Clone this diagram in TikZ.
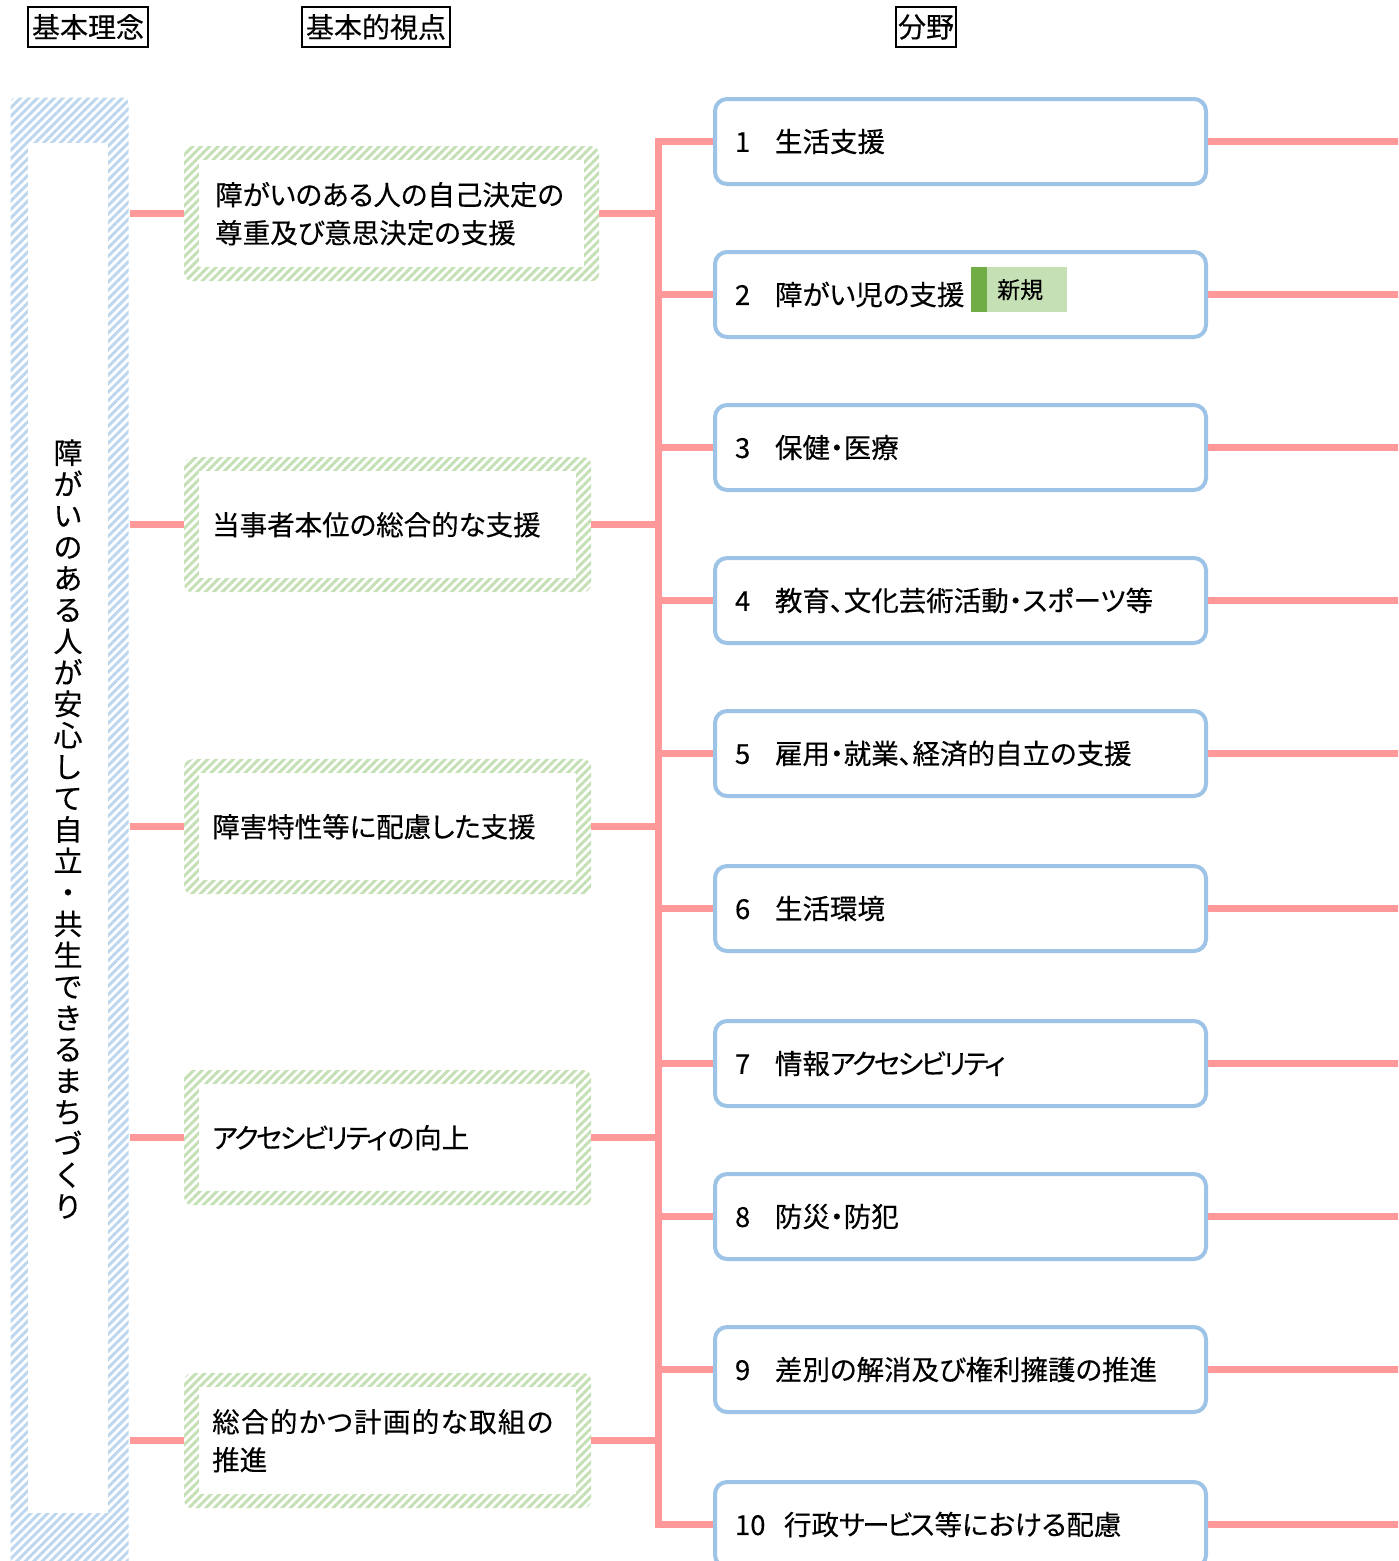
\documentclass[tikz,border=0pt]{standalone}
\usepackage{fontspec}
\setmainfont{Noto Sans CJK JP}[RawFeature=+palt, FakeBold=0.3]
\newfontfamily\vfont{Noto Sans CJK JP}[FakeBold=0.3]
\usetikzlibrary{patterns.meta}
\definecolor{pinkc}{RGB}{255,153,153}
\definecolor{bluec}{RGB}{157,195,230}
\definecolor{bluehatch}{RGB}{189,215,238}
\definecolor{greenhatch}{RGB}{197,224,180}
\definecolor{tagdark}{RGB}{112,173,71}
\definecolor{taglight}{RGB}{197,224,180}
\newcommand\fs{\fontsize{27.5}{38}\selectfont}
\newcommand\kata[1]{{\addfontfeature{LetterSpace=-9}#1}}
\tikzset{
  link/.style={draw=pinkc, line width=7pt},
  hbox/.style={draw=black, line width=1.5pt, inner sep=0pt, minimum height=40pt, font=\fontsize{28}{30}\selectfont},
  fbox/.style={draw=bluec, line width=4pt, rounded corners=12pt, fill=white, minimum height=85pt,
               text width=451pt, inner xsep=20pt, align=left, font=\fs, anchor=north west},
  vbox/.style={rounded corners=8pt, pattern={Lines[angle=45,distance=6pt,line width=3pt]},
               pattern color=greenhatch, minimum width=407pt, minimum height=135pt, anchor=north west, inner sep=0pt},
  vtext/.style={anchor=west, align=left, font=\fs, inner sep=0pt},
  lbox/.style={rounded corners=5pt, pattern={Lines[angle=45,distance=6pt,line width=3pt]},
               pattern color=bluehatch, anchor=north west, inner sep=0pt},
}
\begin{document}
\begin{tikzpicture}[x=1pt,y=-1pt]
\useasboundingbox (0,0) rectangle (1398,1561);
\clip (0,0) rectangle (1398,1561);

% headers
\node[hbox, minimum width=120pt] (h1) at (88,27) {基本理念};
\node[hbox, minimum width=148pt] (h2) at (376,27) {基本的視点};
\node[hbox, minimum width=60pt]  (h3) at (926,27) {分野};

% left concept box
\node[lbox, minimum width=118pt, minimum height=1490pt] (L) at (9,96) {};
\node[fill=white, inner sep=0pt, minimum width=80pt, minimum height=1370pt, anchor=north west] (Lin) at (28,143) {};
\node[align=center, inner sep=0pt, font=\vfont\fontsize{29}{31.4}\selectfont] (Ltext) at (68,829)
  {障\\が\\い\\の\\あ\\る\\人\\が\\安\\心\\し\\て\\自\\立\\・\\共\\生\\で\\き\\る\\ま\\ち\\づ\\く\\り};

% viewpoint boxes
\node[vbox, minimum width=415pt] (v1) at (184,146) {};
\node[vbox] (v2) at (184,457) {};
\node[vbox] (v3) at (184,759) {};
\node[vbox] (v4) at (184,1070) {};
\node[vbox] (v5) at (184,1373) {};
\foreach \n in {v1,v2,v3,v4,v5}{
  \fill[white] ([shift={(15pt,-14pt)}]\n.north west) rectangle ([shift={(-15pt,14pt)}]\n.south east);
}
\node[vtext] (vt1) at ([xshift=31pt]v1.west) {障がいのある人の自己決定の\\尊重及び意思決定の支援};
\node[vtext] (vt2) at ([xshift=28pt]v2.west) {当事者本位の総合的な支援};
\node[vtext] (vt3) at ([xshift=28pt]v3.west) {障害特性等に配慮した支援};
\node[vtext] (vt4) at ([xshift=28pt]v4.west) {\kata{アクセシビリティ}の向上};
\node[vtext] (vt5) at ([xshift=28pt]v5.west) {{\addfontfeature{LetterSpace=5}総合的かつ計画的な取組の}\\推進};

% field boxes
\node[fbox] (f1) at (713,97)   {\makebox[40pt][l]{1}生活支援};
\node[fbox] (f2) at (713,250)  {\makebox[40pt][l]{2}障がい児の支援};
\node[fbox] (f3) at (713,403)  {\makebox[40pt][l]{3}保健・医療};
\node[fbox] (f4) at (713,556)  {\makebox[40pt][l]{4}教育、文化芸術活動・スポーツ等};
\node[fbox] (f5) at (713,709)  {\makebox[40pt][l]{5}雇用・就業、経済的自立の支援};
\node[fbox] (f6) at (713,864)  {\makebox[40pt][l]{6}生活環境};
\node[fbox] (f7) at (713,1019) {\makebox[40pt][l]{7}情報\kata{アクセシビリティ}};
\node[fbox] (f8) at (713,1172) {\makebox[40pt][l]{8}防災・防犯};
\node[fbox] (f9) at (713,1325) {\makebox[40pt][l]{9}差別の解消及び権利擁護の推進};
\node[fbox] (f10) at (713,1480) {\makebox[49pt][l]{10}行政\kata{サービス}等における配慮};

% new tag
\node[fill=tagdark, inner sep=0pt, minimum width=16pt, minimum height=45pt, anchor=north west] (tg1) at (971,267) {};
\node[fill=taglight, inner sep=0pt, text width=80pt, minimum height=45pt, align=left, anchor=north west,
      font=\fontsize{23}{24}\selectfont] (tg2) at (987,267) {\hspace*{10pt}新規};

% connectors
\coordinate (trunk) at (658,0);
\coordinate (rightedge) at (1400,0);
\foreach \n in {v1,v2,v3,v4,v5}{
  \draw[link] (L.east |- \n.west) -- (\n.west);
  \draw[link] (\n.east) -- (\n.east -| trunk);
}
\draw[link, line join=miter] (f1.west) -- (f1.west -| trunk) -- (f10.west -| trunk) -- (f10.west);
\foreach \n in {f2,f3,f4,f5,f6,f7,f8,f9}{
  \draw[link] (\n.west -| trunk) -- (\n.west);
}
\foreach \n in {f1,f2,f3,f4,f5,f6,f7,f8,f9,f10}{
  \draw[link] (\n.east) -- (\n.east -| rightedge);
}
\end{tikzpicture}
\end{document}
